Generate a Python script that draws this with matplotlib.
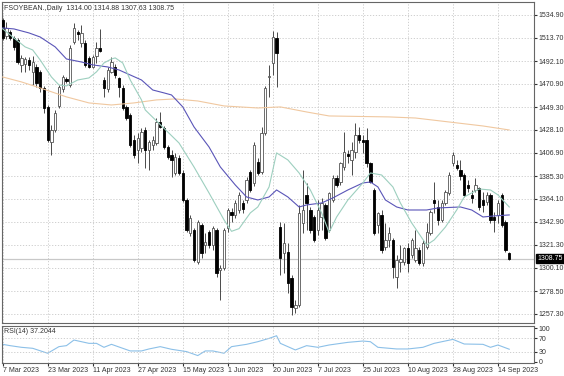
import matplotlib
matplotlib.use('Agg')
import matplotlib.pyplot as plt
import numpy as np

plt.rcParams['font.family'] = ['Liberation Sans', 'DejaVu Sans']

# daily OHLC (FSOYBEAN, Mar - Sep 2023)
opens = [1530.2, 1515.4, 1519.1, 1513.5, 1511.7, 1488.5, 1489.4, 1493.1, 1482.0, 1486.6,
         1482.0, 1467.1, 1449.5, 1417.0, 1428.1, 1450.4, 1466.2, 1475.5, 1469.9, 1509.8,
         1519.1, 1508.9, 1508.9, 1495.0, 1486.6, 1496.8, 1504.2, 1474.5, 1466.2, 1482.0,
         1486.6, 1476.4, 1467.1, 1449.5, 1442.0, 1418.8, 1409.5, 1411.4, 1428.1, 1409.5,
         1414.2, 1416.0, 1435.5, 1430.0, 1412.3, 1404.9, 1388.2, 1402.1, 1388.2, 1363.1,
         1332.5, 1335.3, 1305.6, 1339.9, 1321.3, 1333.4, 1321.3, 1335.3, 1298.1, 1300.0,
         1337.1, 1352.0, 1349.2, 1353.8, 1360.3, 1363.1, 1389.1, 1378.9, 1398.4, 1389.1,
         1425.3, 1477.3, 1490.3, 1513.5, 1338.1, 1313.9, 1314.8, 1290.7, 1262.9, 1265.6,
         1341.8, 1367.8, 1353.8, 1347.3, 1335.3, 1347.3, 1358.5, 1335.3, 1363.1, 1383.5,
         1379.8, 1393.8, 1405.8, 1400.3, 1407.7, 1423.5, 1418.8, 1418.8, 1397.5, 1372.4,
         1339.9, 1349.2, 1319.5, 1326.0, 1326.0, 1291.6, 1305.6, 1305.6, 1318.6, 1312.1,
         1307.4, 1316.7, 1304.6, 1319.5, 1332.5, 1363.1, 1356.6, 1344.6, 1360.3, 1369.6,
         1397.5, 1395.6, 1391.0, 1386.3, 1377.0, 1367.8, 1372.4, 1374.3, 1363.1, 1361.3,
         1367.8, 1347.3, 1349.2, 1367.8, 1342.7, 1314.00]
highs = [1532.1, 1528.4, 1521.0, 1515.4, 1513.5, 1497.7, 1495.9, 1495.9, 1496.8, 1489.4,
         1483.8, 1469.0, 1451.3, 1432.7, 1446.7, 1469.9, 1479.2, 1477.3, 1507.0, 1527.4,
         1521.0, 1525.6, 1511.7, 1496.8, 1497.7, 1509.8, 1521.9, 1477.3, 1486.6, 1495.9,
         1489.4, 1477.3, 1469.9, 1451.3, 1443.9, 1423.5, 1425.3, 1430.0, 1430.9, 1418.8,
         1422.5, 1439.2, 1444.8, 1431.8, 1414.2, 1409.5, 1406.8, 1404.9, 1391.0, 1365.0,
         1349.2, 1337.1, 1344.6, 1341.8, 1332.5, 1335.3, 1339.0, 1337.1, 1302.8, 1337.1,
         1355.7, 1355.7, 1363.1, 1370.5, 1363.1, 1384.5, 1391.0, 1417.0, 1402.1, 1430.9,
         1469.0, 1488.5, 1520.0, 1519.1, 1342.7, 1341.8, 1323.2, 1293.5, 1270.3, 1358.5,
         1391.0, 1378.9, 1356.6, 1349.2, 1363.1, 1365.0, 1360.3, 1370.5, 1386.3, 1386.3,
         1398.4, 1426.3, 1409.5, 1417.0, 1434.6, 1430.9, 1423.5, 1430.0, 1398.4, 1374.3,
         1352.0, 1353.8, 1341.8, 1338.1, 1327.8, 1312.1, 1321.3, 1319.5, 1323.2, 1327.8,
         1335.3, 1319.5, 1326.0, 1341.8, 1353.8, 1379.8, 1363.1, 1363.1, 1372.4, 1389.1,
         1407.7, 1400.3, 1400.3, 1388.2, 1381.7, 1372.4, 1383.5, 1375.2, 1370.5, 1370.5,
         1369.6, 1352.0, 1363.1, 1369.6, 1344.6, 1314.88]
lows = [1511.7, 1512.6, 1511.7, 1502.4, 1489.4, 1482.0, 1482.0, 1483.8, 1469.9, 1468.0,
        1463.4, 1443.9, 1417.0, 1404.9, 1426.3, 1448.5, 1463.4, 1471.7, 1468.0, 1508.0,
        1511.7, 1505.2, 1486.6, 1485.7, 1485.7, 1490.3, 1500.5, 1458.7, 1463.4, 1481.0,
        1476.4, 1458.7, 1446.7, 1437.4, 1412.3, 1402.1, 1397.5, 1407.7, 1392.8, 1391.0,
        1409.5, 1414.2, 1430.0, 1410.5, 1401.2, 1384.5, 1386.3, 1386.3, 1361.3, 1333.4,
        1329.7, 1305.6, 1303.7, 1309.3, 1313.9, 1318.6, 1316.7, 1291.6, 1270.3, 1298.1,
        1333.4, 1342.7, 1346.4, 1351.0, 1351.0, 1360.3, 1370.5, 1376.1, 1386.3, 1387.3,
        1423.5, 1458.7, 1479.2, 1468.0, 1293.5, 1295.3, 1276.8, 1256.4, 1258.2, 1263.8,
        1332.5, 1335.3, 1332.5, 1324.1, 1330.6, 1335.3, 1326.0, 1333.4, 1361.3, 1375.2,
        1377.0, 1391.0, 1397.5, 1386.3, 1402.1, 1416.0, 1406.8, 1393.8, 1378.9, 1330.6,
        1332.5, 1313.9, 1316.7, 1319.5, 1290.7, 1281.4, 1296.3, 1302.8, 1296.3, 1309.3,
        1305.6, 1302.8, 1301.8, 1317.6, 1330.6, 1351.0, 1339.9, 1342.7, 1358.5, 1367.8,
        1394.7, 1391.0, 1381.7, 1365.9, 1370.5, 1360.3, 1370.5, 1353.8, 1352.0, 1358.5,
        1341.8, 1333.4, 1341.8, 1338.1, 1314.8, 1307.63]
closes = [1513.5, 1522.8, 1513.5, 1505.2, 1491.2, 1495.0, 1494.0, 1488.5, 1491.2, 1471.7,
          1467.1, 1448.5, 1418.8, 1428.1, 1443.9, 1468.0, 1477.3, 1473.6, 1504.2, 1522.8,
          1517.2, 1518.2, 1488.5, 1486.6, 1495.9, 1504.2, 1501.5, 1467.1, 1483.8, 1491.2,
          1479.2, 1468.0, 1448.5, 1439.2, 1414.2, 1404.9, 1420.7, 1426.3, 1409.5, 1417.0,
          1418.8, 1435.5, 1430.9, 1412.3, 1403.0, 1400.3, 1403.0, 1388.2, 1363.1, 1335.3,
          1346.4, 1307.4, 1342.7, 1313.9, 1324.1, 1321.3, 1337.1, 1295.3, 1300.0, 1335.3,
          1353.8, 1349.2, 1360.3, 1367.8, 1354.8, 1381.7, 1372.4, 1414.2, 1388.2, 1425.3,
          1467.1, 1478.2, 1514.4, 1499.6, 1309.3, 1323.2, 1286.1, 1263.8, 1265.6, 1351.0,
          1353.8, 1360.3, 1335.3, 1326.0, 1353.8, 1360.3, 1327.8, 1369.6, 1383.5, 1377.0,
          1397.5, 1407.7, 1404.0, 1409.5, 1423.5, 1418.8, 1417.0, 1397.5, 1379.8, 1332.5,
          1351.0, 1316.7, 1326.0, 1332.5, 1300.9, 1307.4, 1308.3, 1318.6, 1304.6, 1326.0,
          1318.6, 1304.6, 1323.2, 1333.4, 1352.0, 1360.3, 1344.6, 1360.3, 1370.5, 1386.3,
          1404.9, 1392.8, 1385.4, 1367.8, 1374.3, 1365.0, 1377.0, 1356.6, 1358.5, 1367.8,
          1344.6, 1344.6, 1360.3, 1339.9, 1316.7, 1308.75]

# moving averages, sampled along the bars
teal_idx = [0, 3, 6, 8, 10, 13, 15, 17, 20, 23, 25, 27, 29, 30, 32, 34, 37, 38, 47, 51,
            55, 59, 61, 63, 66, 68, 71, 73, 76, 79, 82, 85, 87, 89, 92, 96, 98, 101, 104,
            106, 109, 113, 115, 118, 121, 123, 127, 130, 132, 135]
teal_val = [1522.0, 1513.5, 1505.2, 1502.4, 1493.1, 1477.3, 1469.9, 1469.0, 1474.5, 1476.4,
            1482.0, 1490.3, 1494.0, 1495.0, 1490.3, 1474.5, 1456.0, 1446.7, 1416.0, 1393.7,
            1369.6, 1344.6, 1334.0, 1336.5, 1351.1, 1356.6, 1375.2, 1406.8, 1400.3, 1388.2,
            1372.4, 1351.1, 1333.0, 1347.3, 1363.1, 1378.9, 1388.2, 1386.3, 1375.2, 1360.3,
            1341.8, 1321.3, 1326.0, 1338.0, 1353.8, 1365.9, 1373.3, 1372.4, 1367.8, 1356.6]
blue_idx = [0, 3, 7, 10, 14, 17, 21, 24, 28, 31, 37, 40, 43, 45, 48, 51, 55, 58, 62, 65,
            68, 71, 73, 76, 79, 81, 85, 88, 92, 96, 98, 100, 102, 105, 108, 113, 116, 122,
            125, 128, 131, 135]
blue_val = [1522.8, 1521.9, 1518.2, 1514.4, 1505.2, 1494.0, 1491.2, 1488.5, 1486.6, 1483.8,
            1474.5, 1465.2, 1462.5, 1460.6, 1449.5, 1430.9, 1412.3, 1393.8, 1377.0, 1365.9,
            1363.1, 1365.9, 1372.4, 1365.9, 1356.6, 1358.5, 1360.3, 1365.0, 1372.4, 1378.9,
            1379.8, 1375.2, 1363.1, 1356.6, 1353.8, 1353.8, 1355.7, 1356.6, 1353.8, 1347.3,
            1348.3, 1349.2]
tan_idx = [0, 5, 10, 17, 23, 29, 35, 41, 46, 52, 59, 68, 74, 81, 87, 103, 110, 119, 128, 135]
tan_val = [1477.3, 1472.7, 1467.1, 1458.8, 1453.2, 1451.3, 1453.2, 1456.0, 1456.9, 1455.0,
           1450.4, 1448.5, 1449.5, 1444.8, 1441.1, 1440.2, 1439.2, 1435.5, 1431.8, 1428.1]

rsi_idx = [0, 2, 5, 8, 12, 15, 17, 19, 23, 25, 27, 29, 34, 37, 39, 42, 45, 49, 52, 54,
           56, 59, 61, 65, 68, 71, 73, 74, 78, 81, 84, 87, 92, 96, 98, 100, 105, 108, 112,
           115, 120, 123, 128, 130, 132, 135]
rsi_val = [52, 48, 43, 40, 25, 45, 48, 65, 55, 55, 43, 52, 32, 32, 38, 45, 37, 30, 18, 32,
           32, 25, 45, 52, 60, 70, 78, 55, 35, 48, 43, 50, 58, 62, 60, 43, 38, 38, 43,
           55, 67, 53, 52, 43, 50, 37.2]

date_idx = [0, 12, 24, 36, 48, 60, 72, 84, 96, 108, 120, 132]
date_labels = ['7 Mar 2023', '23 Mar 2023', '11 Apr 2023', '27 Apr 2023', '15 May 2023',
               '1 Jun 2023', '20 Jun 2023', '7 Jul 2023', '25 Jul 2023', '10 Aug 2023',
               '28 Aug 2023', '14 Sep 2023']
price_ticks = [1534.90, 1513.70, 1492.10, 1470.90, 1449.30, 1428.10, 1406.90, 1385.30,
               1364.10, 1342.90, 1321.30, 1300.10, 1278.50, 1257.30]
rsi_ticks = [100, 70, 30, 0]

o = np.array(opens); h = np.array(highs); l = np.array(lows); c = np.array(closes)
idx = np.arange(len(o))
up = c >= o

fig = plt.figure(figsize=(5.64, 3.76), dpi=100)
ax = fig.add_axes([0.0027, 0.141, 0.9441, 0.8537])
ax2 = fig.add_axes([0.0027, 0.0359, 0.9441, 0.0984])

grid_kw = dict(color='#c8c8c8', lw=0.6, ls=(0, (1.5, 2)))

# candles
ax.vlines(idx, l, h, color='#4a4a4a', lw=0.7, zorder=2)
ax.bar(idx[up], (c - o)[up], bottom=o[up], width=0.62, color='white',
       edgecolor='#555555', lw=0.6, zorder=3)
ax.bar(idx[~up], (c - o)[~up], bottom=o[~up], width=0.62, color='black',
       edgecolor='black', lw=0.6, zorder=3)

ax.plot(tan_idx, tan_val, color='#f0c8a0', lw=0.8, zorder=4)
ax.plot(blue_idx, blue_val, color='#5a55b8', lw=0.8, zorder=4)
ax.plot(teal_idx, teal_val, color='#9dcfbf', lw=0.8, zorder=4)

ax.axhline(closes[-1], color='#c8c8c8', lw=0.9, zorder=1)

ax.set_xlim(-0.3, 141.6)
ax.set_ylim(1248.9, 1546.9)
ax.set_xticks(date_idx)
ax.set_yticks(price_ticks)
ax.set_yticklabels(['%.2f' % p for p in price_ticks])
ax.yaxis.tick_right()
ax.tick_params(axis='y', labelsize=5, length=2, pad=1.5, colors='#333333')
ax.tick_params(axis='x', labelbottom=False, length=0)
ax.grid(True, **grid_kw)
ax.set_axisbelow(True)
for s in ax.spines.values():
    s.set_color('#666666'); s.set_linewidth(0.8)

ax.text(0.004, 0.992, 'FSOYBEAN.,Daily  1314.00 1314.88 1307.63 1308.75',
        transform=ax.transAxes, fontsize=5, va='top', ha='left', color='#333333')
ax.text(1.006, closes[-1], '%.2f' % closes[-1], transform=ax.get_yaxis_transform(),
        fontsize=5, va='center', ha='left', color='white',
        bbox=dict(facecolor='black', edgecolor='black', pad=1.0))

# RSI panel
ax2.plot(rsi_idx, rsi_val, color='#8cc0e8', lw=0.8)
for lvl in [30, 70]:
    ax2.axhline(lvl, **grid_kw)
ax2.set_xlim(-0.3, 141.6)
ax2.set_ylim(-3, 109)
ax2.set_xticks(date_idx)
ax2.set_xticklabels(date_labels)
for lbl in ax2.get_xticklabels():
    lbl.set_ha('left')
ax2.set_yticks(rsi_ticks)
ax2.yaxis.tick_right()
ax2.tick_params(axis='y', labelsize=5, length=2, pad=1.5, colors='#333333')
ax2.tick_params(axis='x', labelsize=5, length=2, pad=1.5, colors='#333333')
ax2.grid(True, axis='x', **grid_kw)
for s in ax2.spines.values():
    s.set_color('#666666'); s.set_linewidth(0.8)
ax2.text(0.004, 0.93, 'RSI(14) 37.2044', transform=ax2.transAxes, fontsize=5,
         va='top', ha='left', color='#333333')

fig.savefig('out.png', dpi=100)
